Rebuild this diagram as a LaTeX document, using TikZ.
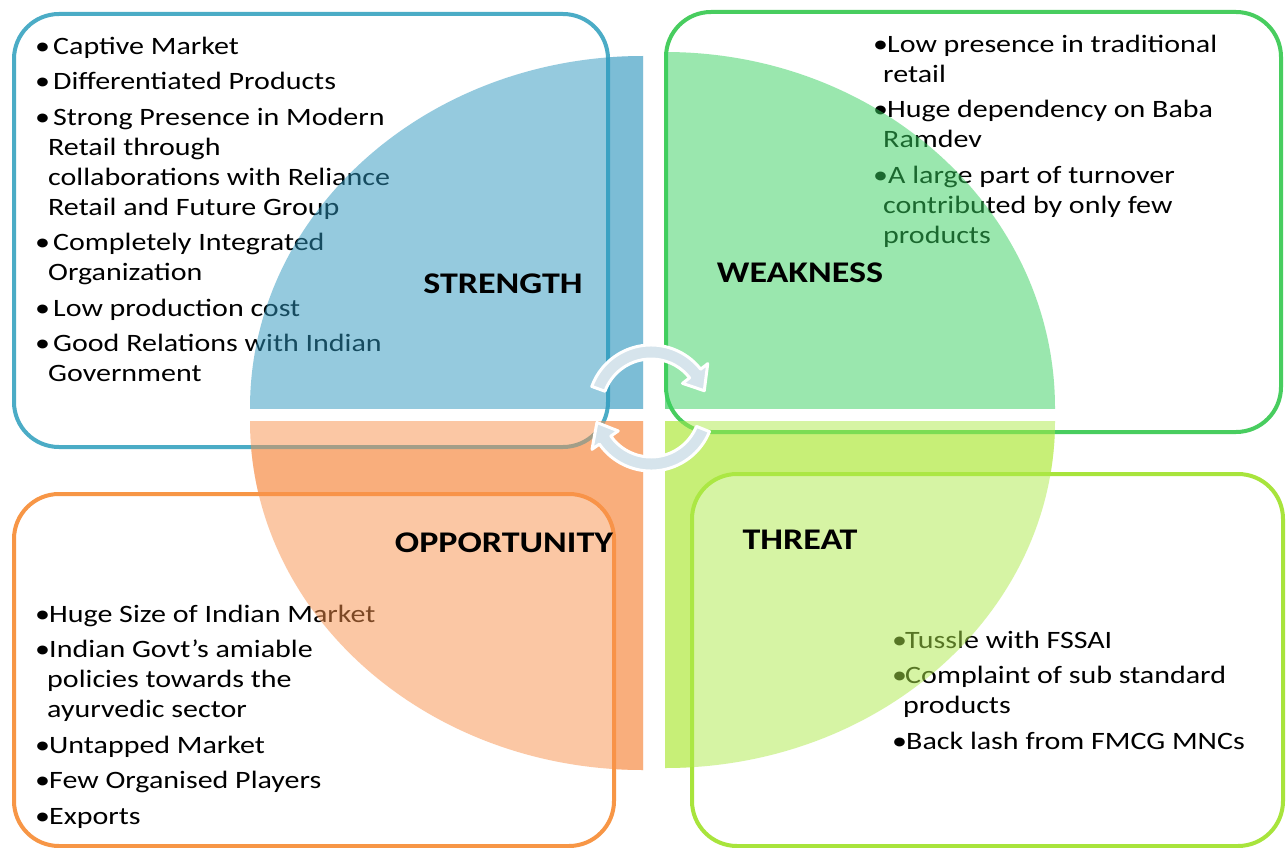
\documentclass[tikz,border=0pt]{standalone}
\usepackage{fontspec}
\setmainfont{Carlito}[FakeStretch=1.2]
% box outlines
\definecolor{sline}{RGB}{75,172,198}
\definecolor{wline}{RGB}{72,205,95}
\definecolor{oline}{RGB}{247,150,70}
\definecolor{tline}{RGB}{168,228,60}
% quadrant colours: base layer and translucent top layer
\definecolor{sunder}{RGB}{205,229,239}
\definecolor{sover}{RGB}{45,151,191}
\definecolor{wunder}{RGB}{185,231,195}
\definecolor{wover}{RGB}{55,209,95}
\definecolor{ounder}{RGB}{251,205,175}
\definecolor{oover}{RGB}{249,145,75}
\definecolor{tunder}{RGB}{225,245,165}
\definecolor{tover}{RGB}{175,235,75}
\definecolor{cycfill}{RGB}{214,228,236}
% one quarter of an ellipse: corner, far corner of clip, radii, fill style
\newcommand\quarter[4]{\begin{scope}\clip (#1) rectangle (#2);\fill[#4] (#1) ellipse[#3];\end{scope}}
\newcommand\bl[1]{\makebox[#1][l]{•}}
\newcommand\ind[1]{\hspace*{#1}}
\begin{document}
\begin{tikzpicture}[x=1pt,y=-1pt,
  box/.style={draw=#1, line width=4pt, fill=white, rounded corners=45pt},
  body/.style={inner sep=0pt, anchor=north west, align=left,
    font=\fontsize{25}{30}\selectfont},
  head/.style={inner sep=0pt, font=\bfseries\fontsize{30}{36}\selectfont},
  cyc/.style={fill=cycfill, draw=white, line width=3pt, line join=round}]
\useasboundingbox (0,0) rectangle (1287,848);
\fill[white] (0,0) rectangle (1287,848);

% quadrant corners
\coordinate (qs) at (643,408);
\coordinate (qw) at (665,408);
\coordinate (qo) at (643,421);
\coordinate (qt) at (665,421);

% base layer of the four quadrants
\quarter{qs}{240,40}{x radius=393,y radius=352}{sunder}
\quarter{qw}{1070,40}{x radius=390,y radius=356}{wunder}
\quarter{qo}{240,790}{x radius=393,y radius=349}{ounder}
\quarter{qt}{1070,790}{x radius=390,y radius=347}{tunder}

% the four boxes
\path[box=sline] (14,14) rectangle (608,447);
\path[box=wline] (666,12) rectangle (1281,432);
\path[box=oline] (14,494) rectangle (614,846);
\path[box=tline] (692,474) rectangle (1283,846);

% bullet lists
\node[body] (stxt) at (35,34) {\rule{0pt}{20pt}\bl{18pt}Captive Market\\[5.5pt]
  \bl{18pt}Differentiated Products\\[5.5pt]
  \bl{18pt}Strong Presence in Modern\\
  \ind{13pt}Retail through\\
  \ind{13pt}collaborations with Reliance\\
  \ind{13pt}Retail and Future Group\\[5.5pt]
  \bl{18pt}Completely Integrated\\
  \ind{13pt}Organization\\[5.5pt]
  \bl{18pt}Low production cost\\[5.5pt]
  \bl{18pt}Good Relations with Indian\\
  \ind{13pt}Government};

\node[body] (wtxt) at (873,32) {\rule{0pt}{20pt}\bl{14pt}Low presence in traditional\\
  \ind{10pt}retail\\[5.5pt]
  \bl{14pt}Huge dependency on Baba\\
  \ind{10pt}Ramdev\\[5.5pt]
  \bl{15pt}A large part of turnover\\
  \ind{10pt}contributed by only few\\
  \ind{10pt}products};

\node[body] (otxt) at (35,602) {\rule{0pt}{20pt}\bl{14pt}Huge Size of Indian Market\\[5.5pt]
  \bl{14pt}Indian Govt's amiable\\
  \ind{12pt}policies towards the\\
  \ind{12pt}ayurvedic sector\\[5.5pt]
  \bl{14pt}Untapped Market\\[5.5pt]
  \bl{14pt}Few Organised Players\\[5.5pt]
  \bl{14pt}Exports};

\node[body] (ttxt) at (892,628) {\rule{0pt}{20pt}\bl{13pt}Tussle with FSSAI\\[5.5pt]
  \bl{13pt}Complaint of sub standard\\
  \ind{11pt}products\\[5.5pt]
  \bl{14pt}Back lash from FMCG MNCs};

% translucent top layer of the quadrants
\quarter{qs}{240,40}{x radius=393,y radius=352}{sover,fill opacity=0.5}
\quarter{qw}{1070,40}{x radius=390,y radius=356}{wover,fill opacity=0.5}
\quarter{qo}{240,790}{x radius=393,y radius=349}{oover,fill opacity=0.5}
\quarter{qt}{1070,790}{x radius=390,y radius=347}{tover,fill opacity=0.5}

% quadrant titles
\node[head] (hs) at (503,284) {STRENGTH};
\node[head] (hw) at (800,273) {WEAKNESS};
\node[head] (ho) at (504,543) {OPPORTUNITY};
\node[head] (ht) at (800,540) {THREAT};

% cycle arrows in the middle
\coordinate (cc) at (651,408);
\filldraw[cyc] ([shift={(cc)}]200:63) arc[start angle=200, end angle=322, radius=63]
  -- ([shift={(cc)}]322:72) -- ([shift={(cc)}]342:56) -- ([shift={(cc)}]322:40)
  -- ([shift={(cc)}]322:49) arc[start angle=322, end angle=200, radius=49] -- cycle;
\filldraw[cyc] ([shift={(cc)}]22:63) arc[start angle=22, end angle=145, radius=63]
  -- ([shift={(cc)}]145:72) -- ([shift={(cc)}]165:56) -- ([shift={(cc)}]145:40)
  -- ([shift={(cc)}]145:49) arc[start angle=145, end angle=22, radius=49] -- cycle;
\end{tikzpicture}
\end{document}
